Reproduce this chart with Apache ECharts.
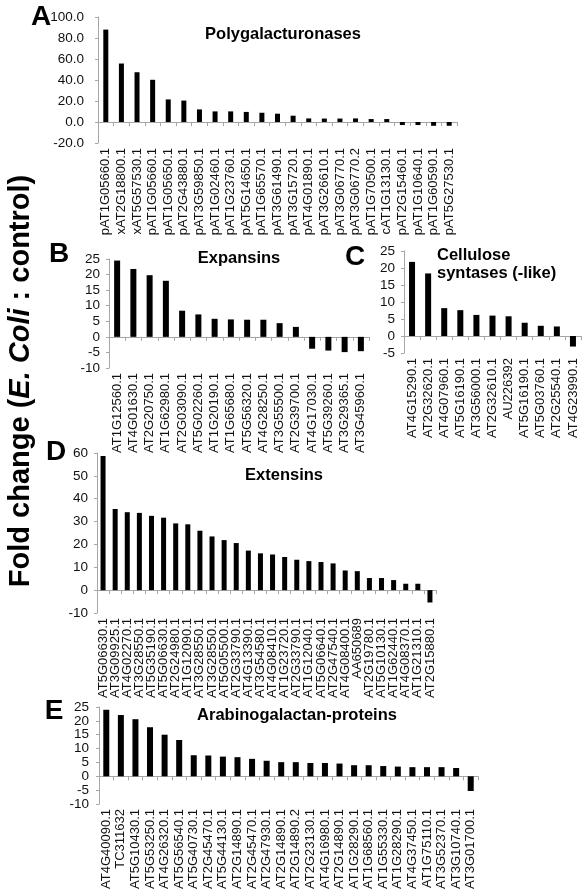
<!DOCTYPE html>
<html>
<head>
<meta charset="utf-8">
<script src="https://cdn.jsdelivr.net/npm/echarts@6/dist/echarts.min.js"></script>
<style>
html,body{margin:0;padding:0;background:#fff;}
#c{width:583px;height:892px;}
</style>
</head>
<body>
<div id="c"></div>
<script>
// ---------- DATA ----------
const catsA = ['pAT1G05660.1','xAT2G18800.1','xAT5G57530.1','pAT1G05660.1','pAT1G05650.1','pAT2G43880.1','pAT3G59850.1','pAT1G02460.1','pAT1G23760.1','pAT5G14650.1','pAT1G65570.1','pAT3G61490.1','pAT3G15720.1','pAT4G01890.1','pAT3G26610.1','pAT3G06770.1','pAT3G06770.2','pAT1G70500.1','cAT1G13130.1','pAT2G15460.1','pAT1G10640.1','pAT1G60590.1','pAT5G27530.1'];
const valsA = [88.0, 55.7, 47.4, 40.2, 21.5, 20.4, 12.0, 10.1, 10.1, 9.6, 8.8, 7.9, 6.0, 3.4, 3.3, 3.3, 3.4, 2.8, 2.8, -2.9, -2.9, -3.6, -3.6];
const ticksA = [-20, 100, 20];

const catsB = ['AT1G12560.1','AT4G01630.1','AT2G20750.1','AT1G62980.1','AT2G03090.1','AT5G02260.1','AT1G20190.1','AT1G65680.1','AT5G56320.1','AT4G28250.1','AT3G55500.1','AT2G39700.1','AT4G17030.1','AT5G39260.1','AT3G29365.1','AT3G45960.1'];
const valsB = [24.5, 21.8, 19.8, 18.0, 8.4, 7.2, 5.8, 5.6, 5.5, 5.5, 4.4, 3.2, -3.8, -4.4, -4.9, -4.6];
const ticksB = [-10, 25, 5];

const catsC = ['AT4G15290.1','AT2G32620.1','AT4G07960.1','AT5G16190.1','AT3G56000.1','AT2G32610.1','AU226392','AT5G16190.1','AT5G03760.1','AT2G25540.1','AT4G23990.1'];
const valsC = [21.8, 18.4, 8.2, 7.6, 6.2, 6.0, 5.8, 3.9, 3.0, 2.8, -3.1];
const ticksC = [-5, 25, 5];

const catsD = ['AT5G06630.1','AT3G09925.1','AT4G02270.1','AT3G28550.1','AT5G35190.1','AT5G06630.1','AT2G24980.1','AT1G12090.1','AT3G28550.1','AT3G28550.1','AT5G05500.1','AT2G33790.1','AT4G13390.1','AT3G54580.1','AT4G08410.1','AT1G23720.1','AT2G33790.1','AT1G12040.1','AT5G06640.1','AT2G47540.1','AT4G08400.1','AA650689','AT2G19780.1','AT5G10130.1','AT1G62440.1','AT4G08370.1','AT1G21310.1','AT2G15880.1'];
const valsD = [58.7, 35.5, 34.1, 33.8, 32.5, 31.7, 29.2, 28.8, 26.0, 23.5, 21.9, 20.6, 17.3, 16.1, 15.6, 14.5, 13.3, 12.7, 12.3, 11.7, 8.6, 8.3, 5.3, 5.3, 4.4, 2.8, 2.8, -5.4];
const ticksD = [-10, 60, 10];

const catsE = ['AT4G40090.1','TC311632','AT5G10430.1','AT5G53250.1','AT4G26320.1','AT5G56540.1','AT5G40730.1','AT2G45470.1','AT5G44130.1','AT2G14890.1','AT2G45470.1','AT2G47930.1','AT2G14890.1','AT2G14890.2','AT2G23130.1','AT4G16980.1','AT2G14890.1','AT1G28290.1','AT1G68560.1','AT1G55330.1','AT1G28290.1','AT4G37450.1','AT1G75110.1','AT3G52370.1','AT3G10740.1','AT3G01700.1'];
const valsE = [24.0, 22.1, 20.6, 17.7, 15.0, 13.1, 7.6, 7.5, 7.1, 6.9, 6.3, 5.6, 5.1, 5.1, 4.8, 4.8, 4.6, 4.0, 4.0, 3.7, 3.5, 3.3, 3.3, 3.3, 3.0, -5.3];
const ticksE = [-10, 25, 5];

// ---------- LAYOUT ----------
const FONT = '"Liberation Sans", Arial, sans-serif';
const panels = [
  {cats: catsA, vals: valsA, t: ticksA, grid: {left: 98, top: 17, width: 359, height: 126}, bw: 5, lm: 14, fmt: v => v.toFixed(1)},
  {cats: catsB, vals: valsB, t: ticksB, grid: {left: 109, top: 259, width: 260, height: 109}, bw: 6, lm: 9},
  {cats: catsC, vals: valsC, t: ticksC, grid: {left: 404, top: 251, width: 177, height: 102}, bw: 6, lm: 9},
  {cats: catsD, vals: valsD, t: ticksD, grid: {left: 97, top: 453, width: 339, height: 160}, bw: 5, lm: 9},
  {cats: catsE, vals: valsE, t: ticksE, grid: {left: 99, top: 707, width: 379, height: 121}, bw: 6, lm: 10}
];

const axisGray = '#a6a6a6';
const grid = [], xAxis = [], yAxis = [], series = [];
panels.forEach((p, i) => {
  grid.push(Object.assign({containLabel: false}, p.grid));
  xAxis.push({
    type: 'category', gridIndex: i, data: p.cats,
    axisLine: {onZero: true, lineStyle: {color: axisGray, width: 1}},
    axisTick: {show: true, length: 4, lineStyle: {color: axisGray}},
    axisLabel: {rotate: 90, interval: 0, margin: 5, fontSize: 13, color: '#111', fontFamily: FONT}
  });
  yAxis.push({
    type: 'value', gridIndex: i, min: p.t[0], max: p.t[1], interval: p.t[2],
    splitLine: {show: false},
    axisLine: {show: true, onZero: false, lineStyle: {color: axisGray, width: 1}},
    axisTick: {show: true, length: 3, lineStyle: {color: axisGray}},
    axisLabel: {margin: p.lm, fontSize: 13.5, color: '#111', fontFamily: FONT, formatter: p.fmt || (v => String(v))}
  });
  series.push({
    type: 'bar', xAxisIndex: i, yAxisIndex: i, data: p.vals, barWidth: p.bw,
    itemStyle: {color: '#000'}, silent: true, animation: false
  });
});

function txt(x, y, text, size, opts) {
  return {
    type: 'text', x: x, y: y, silent: true,
    style: Object.assign({text: text, fontSize: size, fontWeight: 'bold', fontFamily: FONT, fill: '#000',
      textAlign: 'center', textVerticalAlign: 'middle'}, opts || {})
  };
}

const graphic = [
  txt(41, 17, 'A', 28), txt(59, 254, 'B', 28), txt(355, 257, 'C', 28), txt(56, 452, 'D', 28), txt(54, 711, 'E', 28),
  txt(283, 34, 'Polygalacturonases', 16.5),
  txt(239, 258, 'Expansins', 16.5),
  txt(437, 255, 'Cellulose', 16.5, {textAlign: 'left'}),
  txt(437, 273, 'syntases (-like)', 16.5, {textAlign: 'left'}),
  txt(284, 475, 'Extensins', 16.5),
  txt(297, 715, 'Arabinogalactan-proteins', 16.5),
  {
    type: 'text', x: 21, y: 381, rotation: Math.PI / 2, silent: true,
    style: {
      text: '{a|Fold change (}{b|E. Coli}{a| : control)}',
      textAlign: 'center', textVerticalAlign: 'middle',
      rich: {
        a: {fontSize: 29, fontWeight: 'bold', fontFamily: FONT, fill: '#000', color: '#000'},
        b: {fontSize: 29, fontWeight: 'bold', fontStyle: 'italic', fontFamily: FONT, fill: '#000', color: '#000'}
      }
    }
  }
];

const chart = echarts.init(document.getElementById('c'), null, {renderer: 'canvas'});
chart.setOption({animation: false, grid, xAxis, yAxis, series, graphic});
</script>
</body>
</html>
